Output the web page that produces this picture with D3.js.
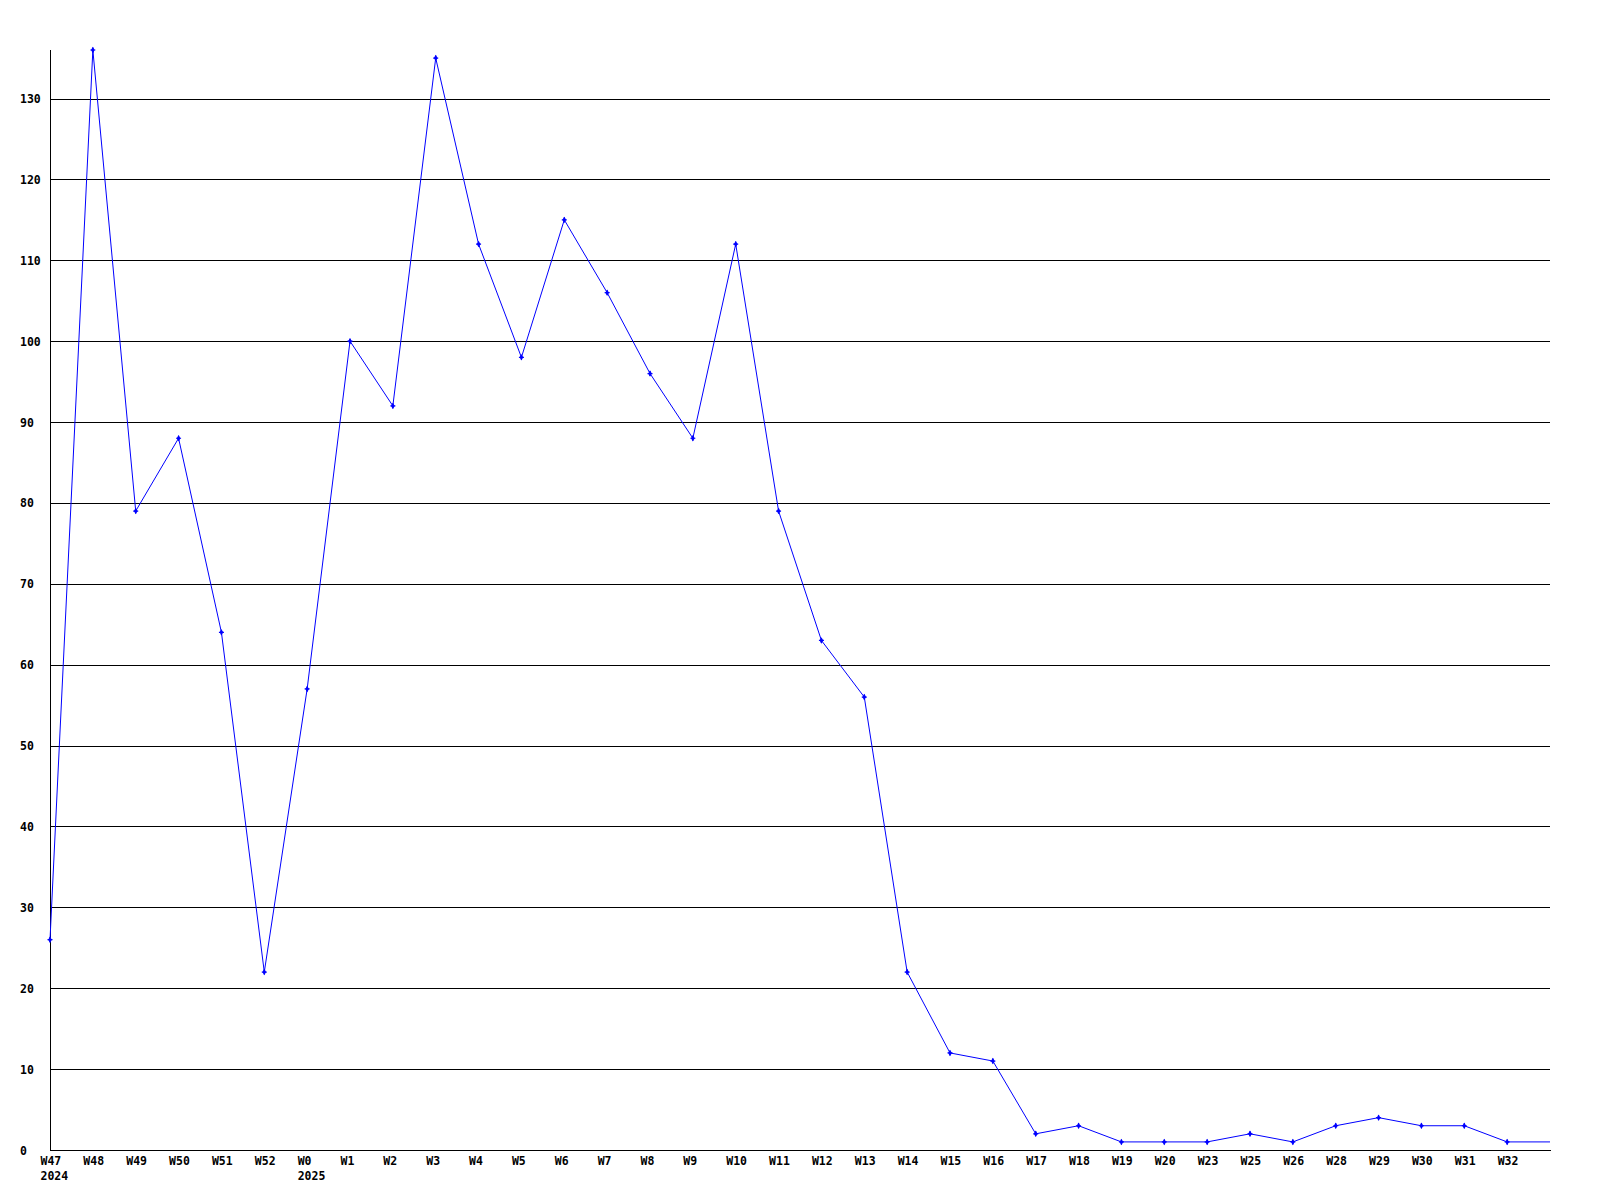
<!DOCTYPE html>
<html>
<head>
<meta charset="utf-8">
<script src="https://cdn.jsdelivr.net/npm/d3@7"></script>
<style>
  body { margin: 0; background: #ffffff; }
  svg { display: block; }
  text { font-family: "DejaVu Sans Mono", "Liberation Mono", monospace; font-weight: bold; font-size: 11.5px; fill: #000; }
</style>
</head>
<body>
<svg id="chart" width="1600" height="1200"></svg>
<script>
const weekLabels = ["W47","W48","W49","W50","W51","W52","W0","W1","W2","W3","W4","W5","W6","W7","W8","W9","W10","W11","W12","W13","W14","W15","W16","W17","W18","W19","W20","W23","W25","W26","W28","W29","W30","W31","W32",""];
const yearLabels = {0: "2024", 6: "2025"};
const values = [26,136,79,88,64,22,57,100,92,135,112,98,115,106,96,88,112,79,63,56,22,12,11,2,3,1,1,1,2,1,3,4,3,3,1,1];
const yTicks = [0,10,20,30,40,50,60,70,80,90,100,110,120,130];

(function () {
const mLeft = 50, mRight = 1550, mTop = 50, mBottom = 1150;
const fs = "11.5px", ff = "DejaVu Sans Mono, monospace";
const svg = d3.select("#chart");

const x = d3.scaleLinear().domain([0, values.length - 1]).range([mLeft, mRight]);
const y = d3.scaleLinear().domain([0, 136]).range([mBottom, mTop]);

// gridlines + y labels
const gy = svg.append("g").attr("transform", `translate(${mLeft},0)`)
  .call(d3.axisLeft(y).tickValues(yTicks).tickSize(-(mRight - mLeft)).tickFormat(d3.format("d")));
gy.select(".domain").remove();
gy.selectAll(".tick line").attr("stroke", "#000").attr("stroke-width", 1).attr("shape-rendering", "crispEdges");
gy.selectAll(".tick text").attr("x", 20 - mLeft).attr("text-anchor", "start").attr("dy", "0.35em")
  .style("font-size", fs).style("font-family", ff).style("font-weight", "bold");

// left axis line
svg.append("line").attr("x1", mLeft).attr("x2", mLeft).attr("y1", mTop).attr("y2", mBottom)
  .attr("stroke", "#000").attr("shape-rendering", "crispEdges");

// bottom axis
const idx = d3.range(weekLabels.length - 1);
const gx = svg.append("g").attr("transform", `translate(0,${mBottom})`)
  .call(d3.axisBottom(x).tickValues(idx).tickSize(0).tickSizeOuter(0).tickFormat(i => weekLabels[i]));
gx.select(".domain").attr("stroke", "#000").attr("shape-rendering", "crispEdges");
gx.selectAll(".tick text").attr("x", -10).attr("y", 7).attr("dy", "0.71em").attr("text-anchor", "start")
  .style("font-size", fs).style("font-family", ff).style("font-weight", "bold");
gx.selectAll(".tick").filter(i => yearLabels[i] !== undefined)
  .append("text").attr("x", -10).attr("y", 22).attr("dy", "0.71em").attr("text-anchor", "start").attr("fill", "#000")
  .style("font-size", fs).style("font-family", ff).style("font-weight", "bold")
  .text(i => yearLabels[i]);

// line
const line = d3.line().x((d, i) => x(i)).y(d => y(d));
svg.append("path").datum(values).attr("d", line)
  .attr("fill", "none").attr("stroke", "#0000ff").attr("stroke-width", 1);

// markers (all but the trailing unlabeled point)
const markerPts = values.slice(0, weekLabels.length - 1);
const mk = svg.append("g").selectAll("g").data(markerPts).join("g")
  .attr("transform", (d, i) => `translate(${x(i)},${y(d)})`);
mk.append("path").attr("d", d3.symbol().type(d3.symbolDiamond).size(12)).attr("fill", "#0000ff");
mk.append("path").attr("d", "M-2.5,0H2.5M0,-2.5V2.5").attr("stroke", "#0000ff").attr("stroke-width", 1.2);
})();
</script>
</body>
</html>
